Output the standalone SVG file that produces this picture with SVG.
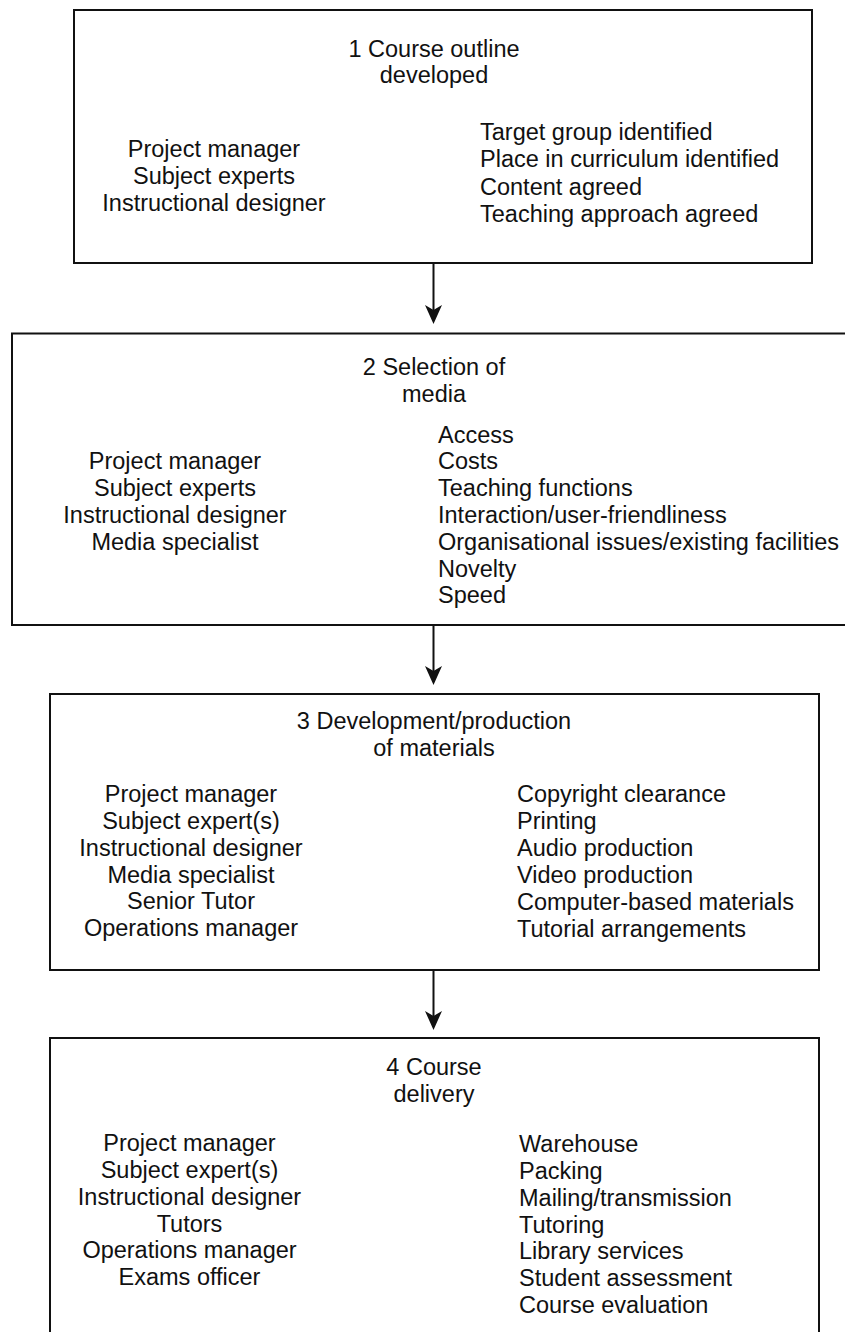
<svg xmlns="http://www.w3.org/2000/svg" width="845" height="1332" viewBox="0 0 845 1332">
<defs>
<style>
.box{fill:#fff;stroke:#111;stroke-width:2}
.t{font-family:"Liberation Sans",Arial,Helvetica,sans-serif;font-size:23.5px;fill:#111}
.c{text-anchor:middle}
.conn{stroke:#111;stroke-width:2;fill:none}
</style>
<marker id="arr" markerUnits="userSpaceOnUse" viewBox="-20 -10 21 20" markerWidth="21" markerHeight="20" refX="-3" refY="0" orient="auto">
<path d="M0,0 L-19,-8.5 L-14,0 L-19,8.5 Z" fill="#111"/>
</marker>
</defs>
<rect width="845" height="1332" fill="#fff"/>
<g id="connectors">
<line class="conn" x1="433.5" y1="263" x2="433.5" y2="321" marker-end="url(#arr)"/>
<line class="conn" x1="433.5" y1="625" x2="433.5" y2="682" marker-end="url(#arr)"/>
<line class="conn" x1="433.5" y1="970" x2="433.5" y2="1027" marker-end="url(#arr)"/>
</g>
<g id="node1">
<rect class="box" x="74" y="10" width="738" height="253"/>
<text class="t c" x="434" y="57">1 Course outline</text>
<text class="t c" x="434" y="83">developed</text>
<text class="t c" x="214" y="157">Project manager</text>
<text class="t c" x="214" y="184">Subject experts</text>
<text class="t c" x="214" y="211">Instructional designer</text>
<text class="t" x="480" y="140">Target group identified</text>
<text class="t" x="480" y="167">Place in curriculum identified</text>
<text class="t" x="480" y="194.5">Content agreed</text>
<text class="t" x="480" y="221.5">Teaching approach agreed</text>
</g>
<g id="node2">
<rect class="box" x="12" y="333.5" width="840" height="291.5"/>
<text class="t c" x="434" y="375">2 Selection of</text>
<text class="t c" x="434" y="401.5">media</text>
<text class="t c" x="175" y="469">Project manager</text>
<text class="t c" x="175" y="496">Subject experts</text>
<text class="t c" x="175" y="522.5">Instructional designer</text>
<text class="t c" x="175" y="549.5">Media specialist</text>
<text class="t" x="438" y="442.5">Access</text>
<text class="t" x="438" y="469">Costs</text>
<text class="t" x="438" y="496">Teaching functions</text>
<text class="t" x="438" y="522.5">Interaction/user-friendliness</text>
<text class="t" x="438" y="549.5">Organisational issues/existing facilities</text>
<text class="t" x="438" y="576.5">Novelty</text>
<text class="t" x="438" y="603">Speed</text>
</g>
<g id="node3">
<rect class="box" x="50" y="694" width="769" height="276"/>
<text class="t c" x="434" y="729">3 Development/production</text>
<text class="t c" x="434" y="756">of materials</text>
<text class="t c" x="191" y="801.5">Project manager</text>
<text class="t c" x="191" y="828.5">Subject expert(s)</text>
<text class="t c" x="191" y="855.5">Instructional designer</text>
<text class="t c" x="191" y="882.5">Media specialist</text>
<text class="t c" x="191" y="909">Senior Tutor</text>
<text class="t c" x="191" y="936">Operations manager</text>
<text class="t" x="517" y="802">Copyright clearance</text>
<text class="t" x="517" y="829">Printing</text>
<text class="t" x="517" y="856">Audio production</text>
<text class="t" x="517" y="883">Video production</text>
<text class="t" x="517" y="910">Computer-based materials</text>
<text class="t" x="517" y="936.5">Tutorial arrangements</text>
</g>
<g id="node4">
<rect class="box" x="50" y="1038" width="769" height="320"/>
<text class="t c" x="434" y="1075">4 Course</text>
<text class="t c" x="434" y="1101.5">delivery</text>
<text class="t c" x="189.5" y="1150.5">Project manager</text>
<text class="t c" x="189.5" y="1178">Subject expert(s)</text>
<text class="t c" x="189.5" y="1205">Instructional designer</text>
<text class="t c" x="189.5" y="1231.5">Tutors</text>
<text class="t c" x="189.5" y="1258">Operations manager</text>
<text class="t c" x="189.5" y="1285">Exams officer</text>
<text class="t" x="519" y="1151.5">Warehouse</text>
<text class="t" x="519" y="1178.5">Packing</text>
<text class="t" x="519" y="1205.5">Mailing/transmission</text>
<text class="t" x="519" y="1232.5">Tutoring</text>
<text class="t" x="519" y="1259">Library services</text>
<text class="t" x="519" y="1286">Student assessment</text>
<text class="t" x="519" y="1313">Course evaluation</text>
</g>
</svg>
